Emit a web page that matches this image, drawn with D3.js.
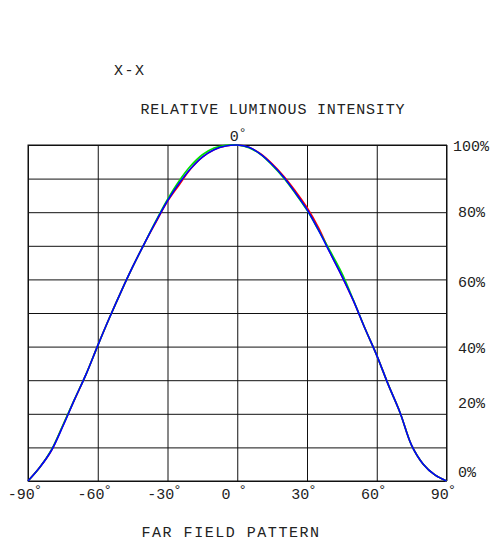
<!DOCTYPE html>
<html>
<head>
    <script src="https://d3js.org/d3.v7.min.js"></script>
    <style type="text/css">
        body { margin: 0; background: #fff; }
        text { font-family: "Liberation Mono", "DejaVu Sans Mono", monospace; fill: #222; }
    </style>
</head>
<body>
    <script type="text/javascript">

        // 각도 (도)
        var angles = [-90, -85, -80, -75, -70, -65, -60, -55, -50, -45, -40, -35, -30, -25, -20, -15, -10, -5,
                      0, 5, 10, 15, 20, 25, 30, 35, 40, 45, 50, 55, 60, 65, 70, 75, 80, 85, 90];

        // 상대 광도 (%) - 세 곡선
        var blueValues = [0, 4, 9, 16.3, 24.2, 31.8, 40.3, 48.5, 56.3, 63.7, 70.6, 77.2, 83.4, 88.6, 93, 96.4, 98.6, 99.7,
                          100, 99.3, 97.3, 94.2, 90.4, 85.8, 80.8, 74.6, 67.8, 61, 53.6, 45.3, 37.4, 28.6, 20.4, 10.6, 5, 1.8, 0];
        var greenValues = [0, 4, 9.2, 16.6, 24.3, 31.8, 40.3, 48.5, 56.3, 63.7, 70.6, 77.4, 83.8, 89.3, 93.8, 97.1, 99.1, 99.9,
                           100, 99.2, 97.2, 94.0, 90.2, 85.6, 80.6, 74.6, 68.4, 61.9, 53.8, 45.3, 37.4, 28.6, 20.4, 10.6, 5, 1.8, 0];
        var redValues = [0, 4, 9, 16.5, 24.2, 31.8, 40.3, 48.5, 56.3, 63.7, 70.6, 77, 83.2, 88.1, 92.9, 96.4, 98.6, 99.7,
                         100, 99.3, 97.4, 94.4, 90.7, 86.3, 81.4, 75.3, 67.9, 61, 53.6, 45.3, 37.4, 28.6, 20.4, 10.6, 5, 1.8, 0];

        // 눈금 라벨
        var xTicks = [-90, -60, -30, 0, 30, 60, 90];
        var xTickLabels = ["-90°", "-60°", "-30°", "0 °", "30°", "60°", "90°"];
        var yTicks = [0, 20, 40, 60, 80, 100];
        var yTickLabels = ["0%", "20%", "40%", "60%", "80%", "100%"];

        var w = 491;
        var h = 543;

        var svg = d3.select("body")
            .append("svg")
            .attr("width", w)
            .attr("height", h);

        var xScale = d3.scaleLinear().domain([-90, 90]).range([28, 446.5]);
        var yScale = d3.scaleLinear().domain([0, 100]).range([481, 145]);

        // 세로 격자 (축 이용)
        svg.append("g")
            .attr("transform", "translate(0," + yScale(0) + ")")
            .call(d3.axisBottom(xScale).tickValues(xTicks).tickSize(-(yScale(0) - yScale(100))).tickFormat(""))
            .call(function(g) {
                g.select(".domain").remove();
                g.selectAll(".tick line").attr("stroke", "#111").attr("stroke-width", 1);
            });

        // 가로 격자
        svg.append("g")
            .attr("transform", "translate(" + xScale(-90) + ",0)")
            .call(d3.axisLeft(yScale).tickValues(d3.range(0, 101, 10)).tickSize(-(xScale(90) - xScale(-90))).tickFormat(""))
            .call(function(g) {
                g.select(".domain").remove();
                g.selectAll(".tick line").attr("stroke", "#111").attr("stroke-width", 1);
            });

        // 테두리
        svg.append("rect")
            .attr("x", xScale(-90))
            .attr("y", yScale(100))
            .attr("width", xScale(90) - xScale(-90))
            .attr("height", yScale(0) - yScale(100))
            .attr("fill", "none")
            .attr("stroke", "#111")
            .attr("stroke-width", 1);

        // 곡선
        var line = d3.line()
            .x(function(d) { return xScale(d[0]); })
            .y(function(d) { return yScale(d[1]); })
            .curve(d3.curveCatmullRom.alpha(0.5));

        var series = [
            { values: redValues, color: "#ff0000" },
            { values: greenValues, color: "#00e000" },
            { values: blueValues, color: "#0000ff" }
        ];

        series.forEach(function(s) {
            svg.append("path")
                .datum(angles.map(function(a, i) { return [a, s.values[i]]; }))
                .attr("d", line)
                .attr("fill", "none")
                .attr("stroke", s.color)
                .attr("stroke-width", 1.6);
        });

        // x축 라벨
        xTicks.forEach(function(t, i) {
            var parts = xTickLabels[i].split("°");
            var txt = svg.append("text")
                .attr("x", xScale(t) - 3)
                .attr("y", 499)
                .attr("text-anchor", "middle")
                .attr("font-size", 15);
            txt.append("tspan").text(parts[0]);
            txt.append("tspan").attr("font-size", 14).attr("dy", -4).attr("dx", -1).text("°");
        });

        // 상단 0°
        var top0 = svg.append("text")
            .attr("x", xScale(0) + 1)
            .attr("y", 141)
            .attr("text-anchor", "middle")
            .attr("font-size", 15);
        top0.append("tspan").text("0");
        top0.append("tspan").attr("font-size", 13).attr("dy", -4).text("°");

        // y축 라벨 (오른쪽)
        var yLabelBase = { 0: 476.5, 20: 408, 40: 352.5, 60: 286.5, 80: 216.5, 100: 150.5 };
        yTicks.forEach(function(t, i) {
            svg.append("text")
                .attr("x", t === 100 ? 453 : 458)
                .attr("y", yLabelBase[t])
                .attr("font-size", 15)
                .text(yTickLabels[i]);
        });

        // 제목
        svg.append("text")
            .attr("x", 114).attr("y", 75)
            .attr("font-size", 15)
            .attr("textLength", 30)
            .text("X-X");

        svg.append("text")
            .attr("x", 140.5).attr("y", 114)
            .attr("font-size", 15)
            .attr("textLength", 264)
            .text("RELATIVE LUMINOUS INTENSITY");

        svg.append("text")
            .attr("x", 141.5).attr("y", 537)
            .attr("font-size", 15)
            .attr("textLength", 177.5)
            .text("FAR FIELD PATTERN");

    </script>
</body>
</html>
